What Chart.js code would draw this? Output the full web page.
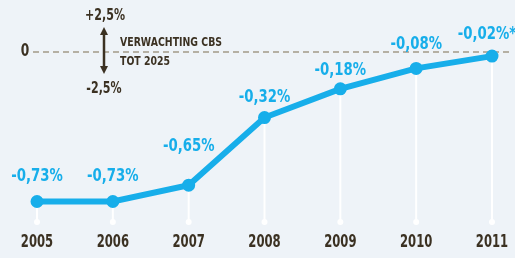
<!DOCTYPE html>
<html>
<head>
<meta charset="utf-8">
<script src="https://cdn.jsdelivr.net/npm/chart.js@4/dist/chart.umd.min.js"></script>
<style>
  html, body { margin: 0; padding: 0; background: #eef3f8; }
  #wrap { width: 515px; height: 258px; position: relative; }
</style>
</head>
<body>
<div id="wrap"><canvas id="chart" width="515" height="258"></canvas></div>
<script>
// data
const years = ['2005', '2006', '2007', '2008', '2009', '2010', '2011'];
const change = [-0.73, -0.73, -0.65, -0.32, -0.18, -0.08, -0.02];
const valueLabels = ['-0,73%', '-0,73%', '-0,65%', '-0,32%', '-0,18%', '-0,08%', '-0,02%*'];

const blue = '#17aeea';
const dark = '#3b3122';
const condensed = '"DejaVu Sans Condensed", "DejaVu Sans", sans-serif';

// squeeze text horizontally to get the narrow poster look
function narrowText(ctx, text, x, y, squeeze) {
    ctx.save();
    ctx.translate(x, y);
    ctx.scale(squeeze, 1);
    ctx.fillText(text, 0, 0);
    ctx.restore();
}

// white stems from each point down to the axis, with a small dot at the end
const stemsPlugin = {
    id: 'stems',
    beforeDatasetsDraw(chart) {
        const ctx = chart.ctx;
        const bottom = chart.chartArea.bottom;
        const meta = chart.getDatasetMeta(0);
        ctx.save();
        ctx.strokeStyle = '#ffffff';
        ctx.fillStyle = '#ffffff';
        ctx.lineWidth = 2;
        meta.data.forEach(function (pt) {
            ctx.beginPath();
            ctx.moveTo(pt.x, pt.y);
            ctx.lineTo(pt.x, bottom);
            ctx.stroke();
            ctx.beginPath();
            ctx.arc(pt.x, bottom, 3, 0, Math.PI * 2);
            ctx.fill();
        });
        // dashed zero line
        const y0 = chart.scales.y.getPixelForValue(0);
        ctx.strokeStyle = '#a39a88';
        ctx.lineWidth = 1.5;
        ctx.setLineDash([6, 4]);
        ctx.beginPath();
        ctx.moveTo(33, y0);
        ctx.lineTo(512, y0);
        ctx.stroke();
        ctx.setLineDash([]);
        ctx.restore();
    }
};

// value labels, year labels and the note on the left
const labelsPlugin = {
    id: 'valueLabels',
    afterDatasetsDraw(chart) {
        const ctx = chart.ctx;
        const meta = chart.getDatasetMeta(0);
        const xScale = chart.scales.x;
        const lift = [25, 25, 39, 20, 19, 24, 22];
        ctx.save();
        ctx.textAlign = 'center';
        ctx.textBaseline = 'middle';
        ctx.fillStyle = blue;
        ctx.font = 'bold 18px ' + condensed;
        meta.data.forEach(function (pt, i) {
            const dx = i === 6 ? -5 : 0;
            narrowText(ctx, valueLabels[i], pt.x + dx, pt.y - lift[i], 0.82);
        });

        // year labels under the stems
        ctx.fillStyle = dark;
        ctx.font = 'bold 17px ' + condensed;
        years.forEach(function (yr, i) {
            narrowText(ctx, yr, xScale.getPixelForValue(i), 243, 0.76);
        });

        // zero label
        const y0 = chart.scales.y.getPixelForValue(0);
        narrowText(ctx, '0', 25, y0, 0.8);

        // +/-2,5% arrow note
        ctx.font = 'bold 15px ' + condensed;
        narrowText(ctx, '+2,5%', 105, 16, 0.82);
        narrowText(ctx, '-2,5%', 104, 89, 0.82);
        ctx.strokeStyle = dark;
        ctx.lineWidth = 2.5;
        ctx.beginPath();
        ctx.moveTo(104, 31);
        ctx.lineTo(104, 70);
        ctx.stroke();
        ctx.beginPath();
        ctx.moveTo(100, 35); ctx.lineTo(104, 27); ctx.lineTo(108, 35);
        ctx.closePath();
        ctx.fill();
        ctx.beginPath();
        ctx.moveTo(100, 66); ctx.lineTo(104, 74); ctx.lineTo(108, 66);
        ctx.closePath();
        ctx.fill();

        ctx.textAlign = 'left';
        ctx.font = 'bold 13px ' + condensed;
        narrowText(ctx, 'VERWACHTING CBS', 120, 43, 0.8);
        narrowText(ctx, 'TOT 2025', 120, 62, 0.8);
        ctx.restore();
    }
};

new Chart(document.getElementById('chart').getContext('2d'), {
    type: 'line',
    data: {
        labels: years,
        datasets: [{
            data: change,
            borderColor: blue,
            backgroundColor: blue,
            borderWidth: 6,
            pointRadius: 3.5,
            pointHoverRadius: 3.5,
            tension: 0
        }]
    },
    options: {
        responsive: false,
        animation: false,
        events: [],
        layout: { padding: { left: 37, right: 23, top: 10, bottom: 36 } },
        plugins: {
            legend: { display: false },
            tooltip: { enabled: false }
        },
        scales: {
            x: {
                offset: false,
                grid: { display: false, drawTicks: false },
                border: { display: false },
                ticks: { display: false }
            },
            y: {
                min: -0.83,
                max: 0.205,
                display: false
            }
        }
    },
    plugins: [stemsPlugin, labelsPlugin]
});
</script>
</body>
</html>
